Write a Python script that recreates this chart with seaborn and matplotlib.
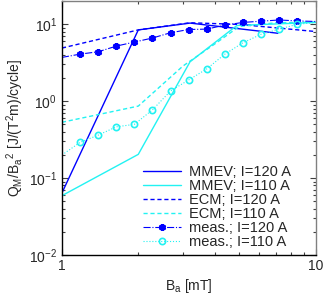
import matplotlib
matplotlib.use('Agg')
import matplotlib.pyplot as plt
import seaborn as sns
from matplotlib.ticker import FixedLocator, FixedFormatter, NullFormatter

sns.set_style("ticks")
plt.rcParams['font.family'] = ['Liberation Sans', 'DejaVu Sans']
plt.rcParams['mathtext.fontset'] = 'custom'
plt.rcParams['mathtext.rm'] = 'Liberation Sans'
plt.rcParams['mathtext.it'] = 'Liberation Sans'
plt.rcParams['font.size'] = 10

# model curves
b_mmev_120 = [1.0, 2.0, 3.2, 7.1]
q_mmev_120 = [0.064, 8.4, 10.3, 7.6]
b_mmev_110 = [1.0, 2.0, 3.2, 4.9, 10.0]
q_mmev_110 = [0.059, 0.203, 3.24, 9.6, 10.5]
b_ecm_120 = [1.0, 2.0, 3.2, 5.0, 10.0]
q_ecm_120 = [4.88, 8.4, 10.4, 9.9, 8.0]
b_ecm_110 = [1.0, 2.0, 3.0, 4.0, 5.0, 7.0, 10.0]
q_ecm_110 = [0.53, 0.86, 2.85, 5.5, 9.3, 10.4, 10.6]

# measurements
b_meas = [1.0, 1.18, 1.39, 1.64, 1.93, 2.27, 2.68, 3.16, 3.72, 4.39, 5.17, 6.09, 7.18, 8.46, 10.0]
q_meas_120 = [3.69, 4.07, 4.37, 5.18, 5.84, 6.58, 7.71, 8.5, 8.6, 9.7, 10.5, 10.9, 11.3, 11.0, 10.8]
q_meas_110 = [0.199, 0.291, 0.361, 0.463, 0.498, 0.764, 1.35, 1.88, 2.61, 4.07, 5.71, 7.35, 8.61, 9.91, 10.5]

blue = '#0000ff'
cyan = '#22f2f2'

fig = plt.figure(figsize=(3.26, 3.0), dpi=100)
ax = fig.add_axes([0.19, 0.15, 0.778, 0.847])

sns.lineplot(x=b_mmev_120, y=q_mmev_120, ax=ax, color=blue, lw=1.0, label='MMEV; I=120 A')
sns.lineplot(x=b_mmev_110, y=q_mmev_110, ax=ax, color=cyan, lw=1.0, label='MMEV; I=110 A')
sns.lineplot(x=b_ecm_120, y=q_ecm_120, ax=ax, color=blue, lw=1.0, dashes=(3, 2), label='ECM; I=120 A')
sns.lineplot(x=b_ecm_110, y=q_ecm_110, ax=ax, color=cyan, lw=1.0, dashes=(3, 2), label='ECM; I=110 A')
sns.lineplot(x=b_meas, y=q_meas_120, ax=ax, color=blue, lw=0.8, linestyle='-.', marker=(6, 2, 0),
             markersize=5, markeredgecolor=blue, markeredgewidth=1.8, markevery=slice(1, -1),
             label='meas.; I=120 A')
sns.lineplot(x=b_meas, y=q_meas_110, ax=ax, color=cyan, lw=0.8, linestyle=':', marker='o',
             markersize=4.5, markerfacecolor='none', markeredgecolor=cyan, markeredgewidth=1.2,
             markevery=slice(1, -1), label='meas.; I=110 A')

ax.set_xscale('log')
ax.set_yscale('log')
ax.set_xlim(1, 10)
ax.set_ylim(0.01, 20)

ax.xaxis.set_major_locator(FixedLocator([1, 10]))
ax.xaxis.set_major_formatter(FixedFormatter(['1', '10']))
ax.xaxis.set_minor_locator(FixedLocator([2, 3, 4, 5, 6, 7, 8, 9]))
ax.xaxis.set_minor_formatter(NullFormatter())
ax.yaxis.set_major_locator(FixedLocator([0.01, 0.1, 1, 10]))
ax.yaxis.set_major_formatter(FixedFormatter([r'$10^{-2}$', r'$10^{-1}$', r'$10^{0}$', r'$10^{1}$']))

ax.tick_params(which='both', direction='in', top=True, right=True, labelsize=10, width=0.8, color='#404040')
ax.tick_params(which='major', length=4)
ax.tick_params(which='minor', length=2.5)
ax.tick_params(axis='x', pad=3)
for s in ax.spines.values():
    s.set_linewidth(1.0)
    s.set_color('black')
ax.spines['top'].set_color('#808080')
ax.spines['right'].set_color('#808080')

ax.set_xlabel(r'B$_\mathregular{a}$ [mT]', fontsize=10, labelpad=3)
ax.set_ylabel(r'Q$_\mathregular{M}$/B$_\mathregular{a}$$^\mathregular{2}$ [J/(T$^\mathregular{2}$m)/cycle]',
              fontsize=10, labelpad=2)

ax.legend(loc='lower right', bbox_to_anchor=(0.905, 0.025), frameon=False, fontsize=10.5,
          handlelength=2.6, handletextpad=0.6, labelspacing=0.0, borderaxespad=0.0, borderpad=0.0)

fig.savefig('out.png', dpi=100)
